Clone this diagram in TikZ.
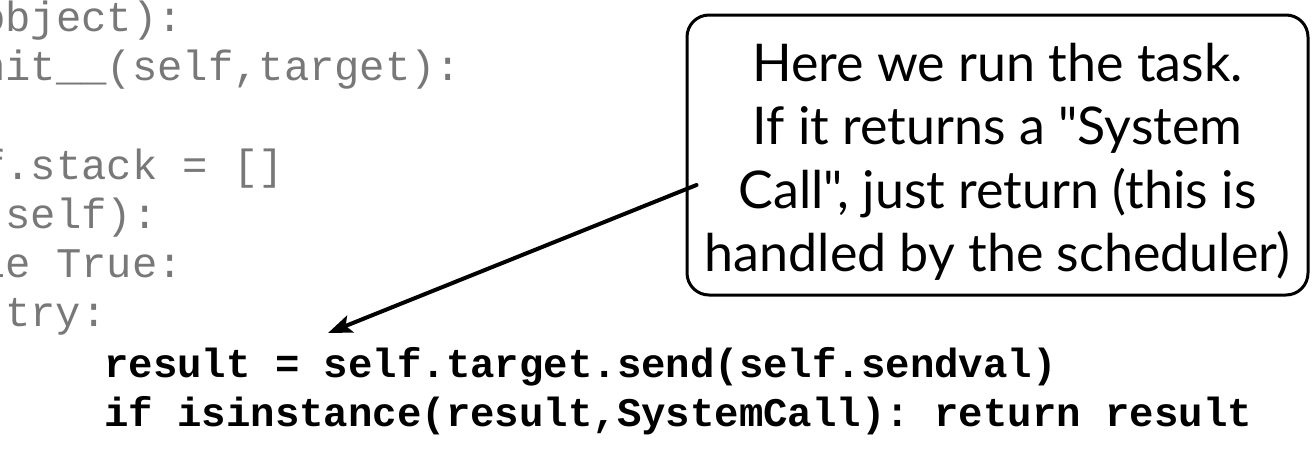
\documentclass[tikz,border=0pt]{standalone}
\usepackage{fontspec}
\setmonofont{Liberation Mono}
\newfontfamily\notefont{Lato}
\usetikzlibrary{arrows.meta}
\definecolor{codegray}{RGB}{120,120,120}

\begin{document}
\begin{tikzpicture}[x=1pt, y=-1pt, line join=round, line cap=round, >={Stealth[length=24pt,width=18pt,inset=5pt]}]
  \tikzset{graycode/.style={anchor=base west, inner sep=0pt, text=codegray, font=\fontsize{42.2}{49}\selectfont\ttfamily},
    boldcode/.style={anchor=base west, inner sep=0pt, font=\fontsize{40.7}{49}\selectfont\ttfamily\bfseries}}
  \useasboundingbox (0,0) rectangle (1312,450);
  % greyed part of the class
  \foreach \i/\x/\y/\t in {1/-20/31/{object):}, 2/-20/80/{nit\_\_(self,target):}, 4/-20/179/{f.stack = []}, 5/-20/228/{(self):}, 6/-20/277/{le True:}, 7/5/326/{try:}}
    \node[graycode] (g\i) at (\x,\y) {\t};
  \node[boldcode] (run) at (104,377) {result = self.target.send(self.sendval)};
  \node[boldcode] (check) at (104,426) {if isinstance(result,SystemCall): return result};
  % callout
  \node[draw, line width=3pt, rounded corners=22pt, minimum width=621pt, minimum height=280pt, align=center, font=\notefont\fontsize{52}{63.5}\selectfont] (note) at (997.5,155) {\rule{0pt}{52pt}Here we run the task.\\ If it returns a "System\\ Call", just return (this is\\ handled by the scheduler)};
  \coordinate (tail) at ([shift={(11,30)}]note.west);
  \coordinate (tip) at (328,333);
  \draw[->, line width=4pt] (tail) -- (tip);
\end{tikzpicture}
\end{document}
